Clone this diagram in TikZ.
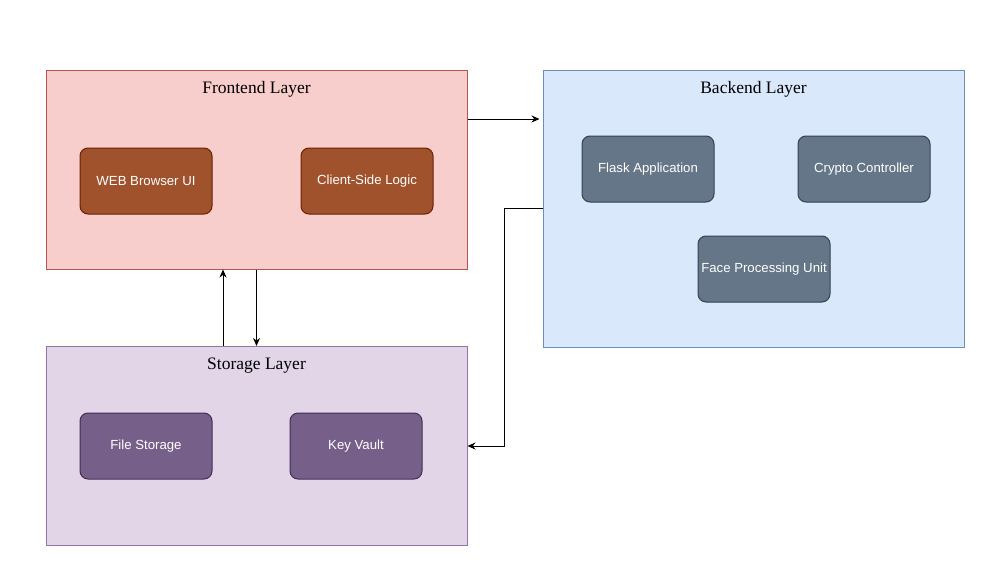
\documentclass[tikz,border=0pt]{standalone}
\usepackage{fontspec}
\setmainfont{Liberation Serif}
\setsansfont{Liberation Sans}
\usetikzlibrary{arrows.meta}

\definecolor{frontfill}{HTML}{F8CECC}
\definecolor{frontline}{HTML}{B85450}
\definecolor{backfill}{HTML}{DAE8FC}
\definecolor{backline}{HTML}{6C8EBF}
\definecolor{storfill}{HTML}{E1D5E7}
\definecolor{storline}{HTML}{9673A6}
\definecolor{webfill}{HTML}{A0522D}
\definecolor{webline}{HTML}{6D1F00}
\definecolor{appfill}{HTML}{647687}
\definecolor{appline}{HTML}{314354}
\definecolor{keyfill}{HTML}{76608A}
\definecolor{keyline}{HTML}{432D57}

\begin{document}
\begin{tikzpicture}[x=1pt, y=-1pt, line width=1pt,
  layer/.style={rectangle, minimum width=421pt, minimum height=199pt, inner sep=0pt},
  title/.style={font=\fontsize{17.5}{20}\selectfont},
  unit/.style={rectangle, rounded corners=8pt, minimum width=132pt, minimum height=66pt,
    inner sep=0pt, text=white, font=\sffamily\fontsize{13.2}{15}\selectfont},
  link/.style={-{Stealth[length=8pt,width=7pt]}}]

\useasboundingbox (0,0) rectangle (993,565);

\node [layer,draw=frontline,fill=frontfill](front) at (256.5,169.5) {};
\node [layer,draw=backline,fill=backfill,minimum height=277pt](back) at (753.5,208.5) {};
\node [layer,draw=storline,fill=storfill](stor) at (256.5,446) {};

\node[title](fronttitle) at (256.5,89) {Frontend Layer};
\node[title](backtitle) at (753.5,89) {Backend Layer};
\node[title](stortitle) at (256.5,366) {Storage Layer};

\begin{scope}[every node/.append style={draw=webline,fill=webfill}]
\node [unit](browser) at (146,181) {WEB Browser UI};
\node [unit](client) at (367,181) {Client-Side Logic};
\end{scope}

\begin{scope}[every node/.append style={draw=appline,fill=appfill}]
\node [unit](flask) at (648,169) {Flask Application};
\node [unit](crypto) at (864,169) {Crypto Controller};
\node [unit](face) at (764,269) {Face Processing Unit};
\end{scope}

\begin{scope}[every node/.append style={draw=keyline,fill=keyfill}]
\node [unit](files) at (146,446) {File Storage};
\node [unit](vault) at (356,446) {Key Vault};
\end{scope}

\draw[link] ([yshift=50.5pt]front.east) -- ([yshift=89.5pt,xshift=-3pt]back.west);
\draw[link] (back.west) -- ++(-38,0) |- (stor.east);
\draw[link] ([xshift=-33.5pt]stor.north) -- ([xshift=-33.5pt]front.south);
\draw[link] (front.south) -- (stor.north);

\end{tikzpicture}
\end{document}
